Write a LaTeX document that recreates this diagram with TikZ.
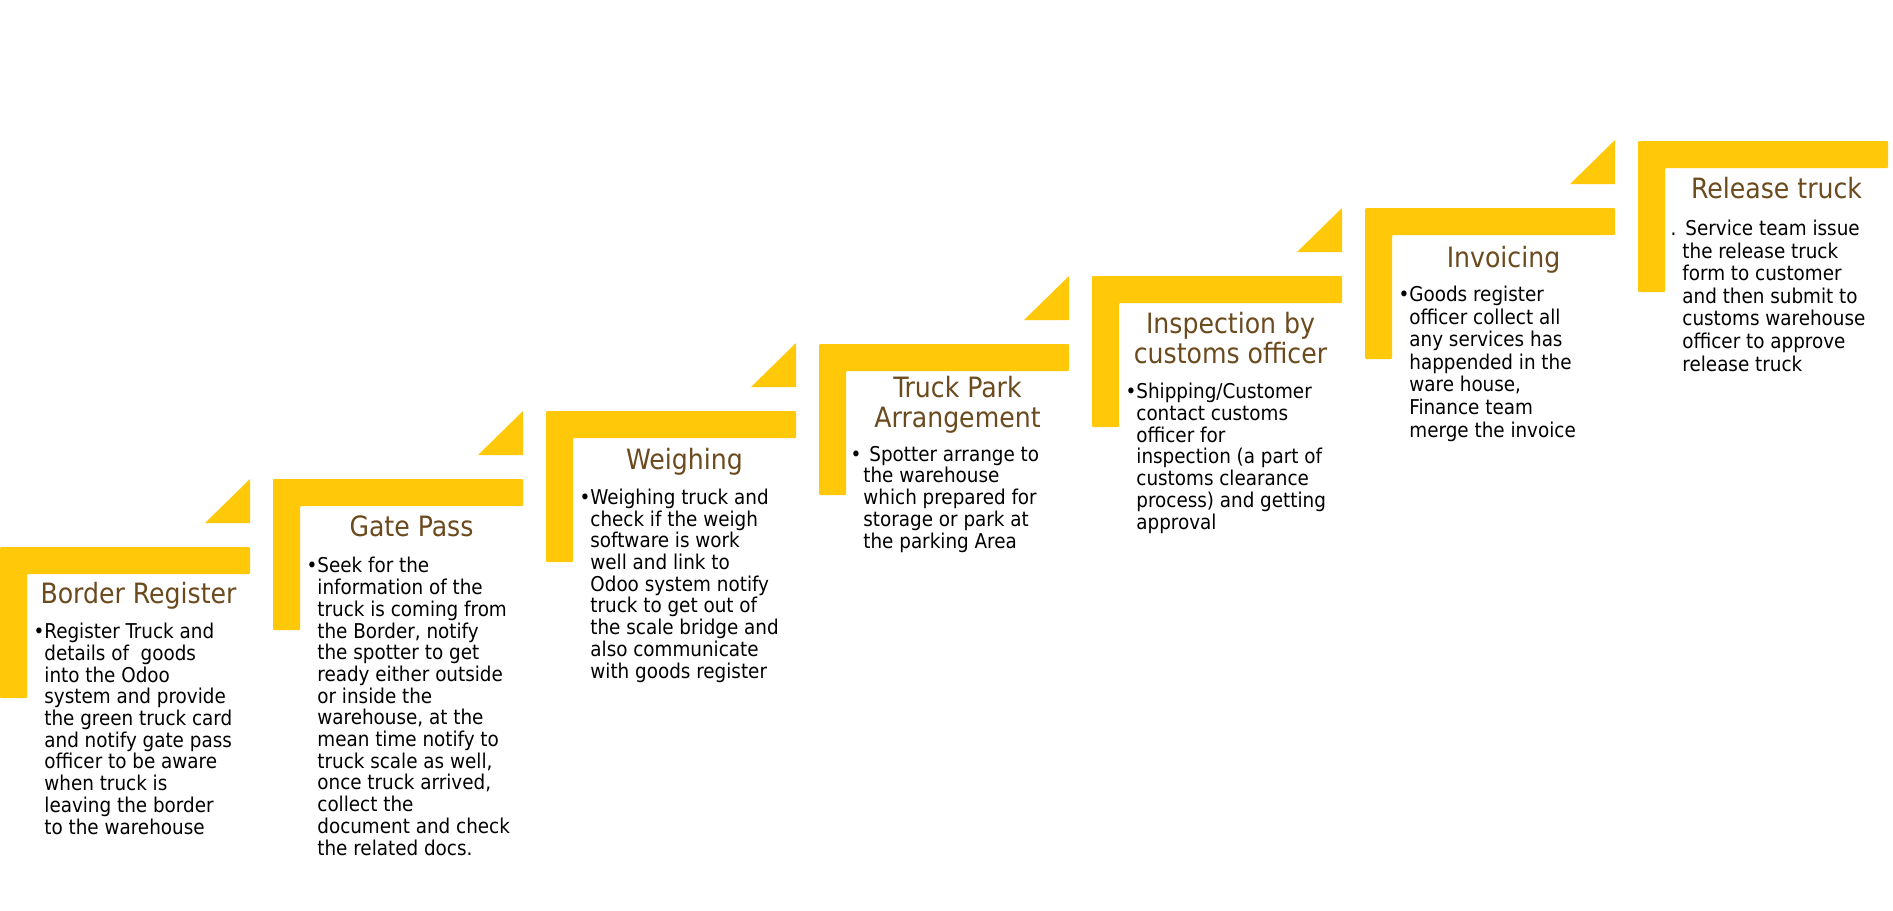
\documentclass[tikz,border=0pt]{standalone}
\usepackage{fontspec}
\setmainfont{DejaVu Sans Condensed}
\definecolor{stepyellow}{HTML}{FFC90A}
\definecolor{titlebrown}{HTML}{6B4A1E}
\tikzset{
    step_bar/.style={fill=stepyellow, draw=none, rounded corners=0.5pt},
    step_tip/.style={fill=stepyellow, draw=none},
    step_title/.style={text=titlebrown, font=\fontsize{14}{14.8}\selectfont, align=center, inner sep=0pt, anchor=base},
    step_text/.style={text=black, font=\fontsize{10.2}{10.85}\selectfont, align=left, inner sep=0pt, anchor=base west},
    wide_text/.style={step_text, font=\fontsize{10.2}{11.3}\selectfont},
}

\begin{document}
\begin{tikzpicture}[x=0.5pt, y=-0.5pt]
      \useasboundingbox (0,0) rectangle (1893,910);
      % multi-line nodes sit on the baseline of their last line
      %%%%%%%%%%%%%%%%%%%
      % Border Register %
      %%%%%%%%%%%%%%%%%%%
      \fill [step_bar] (0,547) -- ++(250,0) -- ++(0,27) -- ++(-223,0) -- ++(0,124) -- ++(-27,0) -- cycle;
      \fill [step_tip] (205,523) -- ++(45,0) -- ++(0,-44) -- cycle;
      \node (border_title) [step_title] at (138.5,603) {Border Register};
      \node (border_text) [step_text] at (44,834)
          {\llap{•}Register Truck and\\details of\ \ goods\\into the Odoo\\system and provide\\the green truck card\\and notify gate pass\\officer to be aware\\when truck is\\leaving the border\\to the warehouse};

      %%%%%%%%%%%%%
      % Gate Pass %
      %%%%%%%%%%%%%
      \fill [step_bar] (273,479) -- ++(250,0) -- ++(0,27) -- ++(-223,0) -- ++(0,124) -- ++(-27,0) -- cycle;
      \fill [step_tip] (478,455) -- ++(45,0) -- ++(0,-44) -- cycle;
      \node (gate_title) [step_title] at (411.5,536) {Gate Pass};
      \node (gate_text) [step_text] at (317,855)
          {\llap{•}Seek for the\\information of the\\truck is coming from\\the Border, notify\\the spotter to get\\ready either outside\\or inside the\\warehouse, at the\\mean time notify to\\truck scale as well,\\once truck arrived,\\collect the\\document and check\\the related docs.};

      %%%%%%%%%%%%
      % Weighing %
      %%%%%%%%%%%%
      \fill [step_bar] (546,411) -- ++(250,0) -- ++(0,27) -- ++(-223,0) -- ++(0,124) -- ++(-27,0) -- cycle;
      \fill [step_tip] (751,387) -- ++(45,0) -- ++(0,-44) -- cycle;
      \node (weigh_title) [step_title] at (684.5,469) {Weighing};
      \node (weigh_text) [step_text] at (590,678)
          {\llap{•}Weighing truck and\\check if the weigh\\software is work\\well and link to\\Odoo system notify\\truck to get out of\\the scale bridge and\\also communicate\\with goods register};

      %%%%%%%%%%%%%%
      % Truck Park %
      %%%%%%%%%%%%%%
      \fill [step_bar] (819,344) -- ++(250,0) -- ++(0,27) -- ++(-223,0) -- ++(0,124) -- ++(-27,0) -- cycle;
      \fill [step_tip] (1024,320) -- ++(45,0) -- ++(0,-44) -- cycle;
      \node (park_title) [step_title] at (957.5,427) {Truck Park\\Arrangement};
      \node (park_text) [step_text] at (863,548)
          {\llap{•\hspace{1pt}}\hspace{3pt}Spotter arrange to\\the warehouse\\which prepared for\\storage or park at\\the parking Area};

      %%%%%%%%%%%%%%
      % Inspection %
      %%%%%%%%%%%%%%
      \fill [step_bar] (1092,276) -- ++(250,0) -- ++(0,27) -- ++(-223,0) -- ++(0,124) -- ++(-27,0) -- cycle;
      \fill [step_tip] (1297,252) -- ++(45,0) -- ++(0,-44) -- cycle;
      \node (inspect_title) [step_title] at (1230.5,363) {Inspection by\\customs officer};
      \node (inspect_text) [step_text] at (1136,529)
          {\llap{•}Shipping/Customer\\contact customs\\officer for\\inspection (a part of\\customs clearance\\process) and getting\\approval};

      %%%%%%%%%%%%%
      % Invoicing %
      %%%%%%%%%%%%%
      \fill [step_bar] (1365,208) -- ++(250,0) -- ++(0,27) -- ++(-223,0) -- ++(0,124) -- ++(-27,0) -- cycle;
      \fill [step_tip] (1570,184) -- ++(45,0) -- ++(0,-44) -- cycle;
      \node (invoice_title) [step_title] at (1503.5,267) {Invoicing};
      \node (invoice_text) [wide_text] at (1409,437)
          {\llap{•}Goods register\\officer collect all\\any services has\\happended in the\\ware house,\\Finance team\\merge the invoice};

      %%%%%%%%%%%
      % Release %
      %%%%%%%%%%%
      \fill [step_bar] (1638,141) -- ++(250,0) -- ++(0,27) -- ++(-223,0) -- ++(0,124) -- ++(-27,0) -- cycle;
      \node (release_title) [step_title] at (1776.5,198) {Release truck};
      \node (release_text) [wide_text] at (1682,371)
          {\llap{.\hspace{3pt}}\hspace{1.5pt}Service team issue\\the release truck\\form to customer\\and then submit to\\customs warehouse\\officer to approve\\release truck};
    \end{tikzpicture}
\end{document}
